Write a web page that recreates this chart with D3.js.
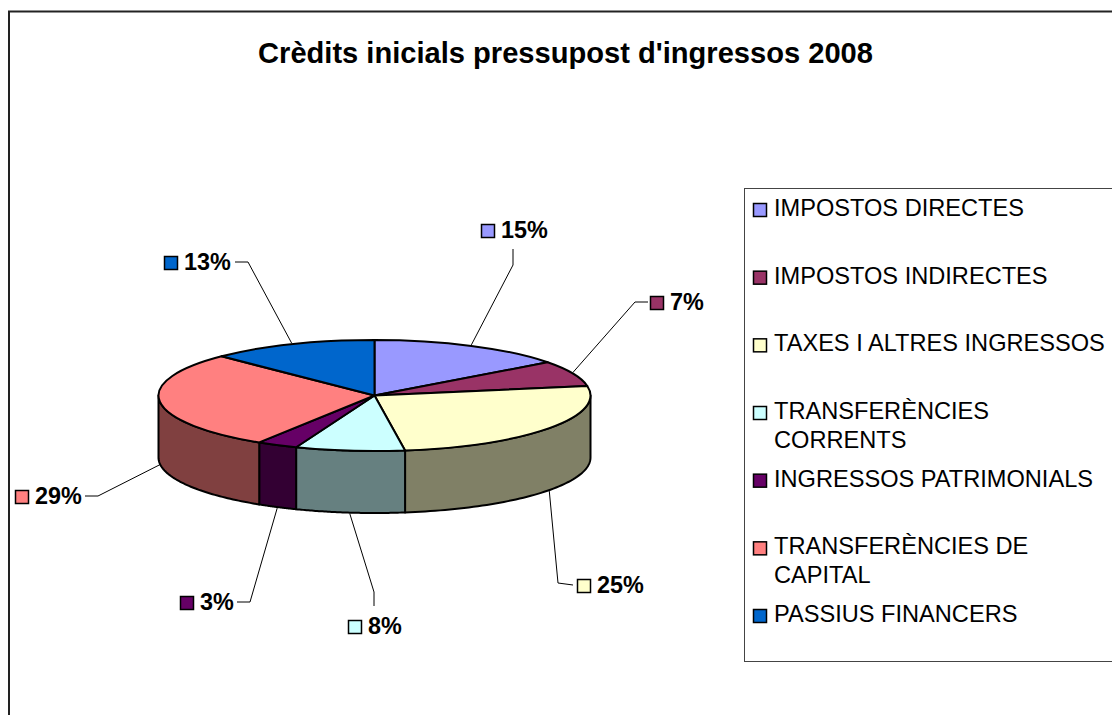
<!DOCTYPE html>
<html>
<head>
<meta charset="utf-8">
<script src="https://cdn.jsdelivr.net/npm/d3@7"></script>
<style>
    html, body { margin: 0; padding: 0; background: #fff; overflow: hidden; }
    text { font-family: "Liberation Sans", Arial, sans-serif; fill: #000; }
</style>
</head>
<body>
<div id="chart"></div>
<script>
const categories = ["IMPOSTOS DIRECTES", "IMPOSTOS INDIRECTES", "TAXES I ALTRES INGRESSOS",
    "TRANSFERÈNCIES CORRENTS", "INGRESSOS PATRIMONIALS", "TRANSFERÈNCIES DE CAPITAL", "PASSIUS FINANCERS"];
const shares = [14.8, 7.45, 25.49, 8.17, 3.05, 28.52, 12.52];
const colors = ["#9999FF", "#993366", "#FFFFCC", "#CCFFFF", "#660066", "#FF8080", "#0066CC"];
const legendLines = [["IMPOSTOS DIRECTES"], ["IMPOSTOS INDIRECTES"], ["TAXES I ALTRES INGRESSOS"],
    ["TRANSFERÈNCIES", "CORRENTS"], ["INGRESSOS PATRIMONIALS"], ["TRANSFERÈNCIES DE", "CAPITAL"], ["PASSIUS FINANCERS"]];

// where each data label sits, and the elbow of its leader line
const labelSpots = [
    {marker: [481, 224], elbow: [[513, 265], [513, 249]]},
    {marker: [650, 296], elbow: [[635, 302], [648, 302]]},
    {marker: [577, 579], elbow: [[558, 583], [573, 585]]},
    {marker: [348, 620], elbow: [[374, 592], [374, 606]]},
    {marker: [180, 596], elbow: [[250, 602], [237, 602]]},
    {marker: [15, 490], elbow: [[98, 496], [85, 496]]},
    {marker: [164, 256], elbow: [[248, 262], [235, 262]]}
];

const width = 1112, height = 715;
const cx = 374.5, cy = 395.5, rx = 216, ry = 55.5, depth = 62;

const svg = d3.select("#chart").append("svg")
    .attr("width", width)
    .attr("height", height)
    .style("display", "block");

// outer frame runs off the right and bottom of the picture
svg.append("rect")
    .attr("x", 9).attr("y", 11.5)
    .attr("width", width + 20).attr("height", height + 20)
    .attr("fill", "#fff").attr("stroke", "#222").attr("stroke-width", 2);

svg.append("text")
    .attr("x", 565.5).attr("y", 63)
    .attr("text-anchor", "middle")
    .style("font-size", "29.1px").style("font-weight", "bold")
    .text("Crèdits inicials pressupost d'ingressos 2008");

const total = d3.sum(shares);
const pie = d3.pie().sort(null).value(d => d.value);
const slices = pie(shares.map((v, i) => ({value: v, name: categories[i], color: colors[i]})));
const percent = d3.format(".0%");

const squash = d3.scaleLinear().domain([-rx, rx]).range([cy - ry, cy + ry]);
const rim = (angle) => {
    const p = d3.pointRadial(angle, rx);
    return [cx + p[0], squash(p[1])];
};
const shade = c => d3.interpolateRgb(c, "#000")(0.5);

// sides, only the front half of the rim shows
const sideLine = d3.line();
const sides = slices.filter(d => d.endAngle > Math.PI / 2 && d.startAngle < 3 * Math.PI / 2);
svg.append("g").selectAll("path").data(sides)
    .enter()
    .append("path")
    .attr("d", d => {
        const a0 = Math.max(d.startAngle, Math.PI / 2);
        const a1 = Math.min(d.endAngle, 3 * Math.PI / 2);
        const top = d3.range(0, 61).map(k => rim(a0 + (a1 - a0) * k / 60));
        const bottom = top.slice().reverse().map(p => [p[0], p[1] + depth]);
        return sideLine(top.concat(bottom)) + "Z";
    })
    .attr("fill", d => shade(d.data.color))
    .attr("stroke", "#000")
    .attr("stroke-width", 2)
    .attr("stroke-linejoin", "round");

// top face is a round pie squashed into an ellipse
const arc = d3.arc().innerRadius(0).outerRadius(rx);
svg.append("g")
    .attr("transform", `translate(${cx},${cy}) scale(1,${ry / rx})`)
    .selectAll("path").data(slices)
    .enter()
    .append("path")
    .attr("d", arc)
    .attr("fill", d => d.data.color)
    .attr("stroke", "#000")
    .attr("stroke-width", 2)
    .attr("stroke-linejoin", "round")
    .attr("vector-effect", "non-scaling-stroke");

// leader lines start on the rim at the middle of the slice
const leader = d3.line();
svg.append("g").selectAll("path").data(slices)
    .enter()
    .append("path")
    .attr("d", (d, i) => {
        const mid = (d.startAngle + d.endAngle) / 2;
        const p = rim(mid);
        const front = mid > Math.PI / 2 && mid < 3 * Math.PI / 2;
        return leader([[p[0], p[1] + (front ? depth + 1 : -1)]].concat(labelSpots[i].elbow));
    })
    .attr("fill", "none")
    .attr("stroke", "#000")
    .attr("stroke-width", 1);

const labels = svg.append("g").selectAll("g").data(slices)
    .enter()
    .append("g")
    .attr("transform", (d, i) => `translate(${labelSpots[i].marker[0]},${labelSpots[i].marker[1]})`);
labels.append("rect")
    .attr("x", 0.5).attr("y", 0.5)
    .attr("width", 13).attr("height", 13)
    .attr("fill", d => d.data.color)
    .attr("stroke", "#000")
    .attr("stroke-width", 1.5);
labels.append("text")
    .attr("x", 20).attr("y", 14)
    .style("font-size", "23.4px").style("font-weight", "bold")
    .text(d => percent(d.value / total));

// legend
svg.append("rect")
    .attr("x", 744.5).attr("y", 188.5)
    .attr("width", width).attr("height", 473)
    .attr("fill", "#fff").attr("stroke", "#444").attr("stroke-width", 1);

const rowY = d3.scalePoint().domain(categories).range([216, 622]);
const rows = svg.append("g").selectAll("g").data(categories)
    .enter()
    .append("g")
    .attr("transform", d => `translate(0,${rowY(d)})`);
rows.append("rect")
    .attr("x", 753.5).attr("y", -12.5)
    .attr("width", 13).attr("height", 13)
    .attr("fill", (d, i) => colors[i])
    .attr("stroke", "#000")
    .attr("stroke-width", 1.5);
rows.each(function (d, i) {
    d3.select(this).selectAll("text").data(legendLines[i])
        .enter()
        .append("text")
        .attr("x", 774)
        .attr("y", (t, j) => j * 29)
        .style("font-size", "23.6px")
        .text(t => t);
});
</script>
</body>
</html>
